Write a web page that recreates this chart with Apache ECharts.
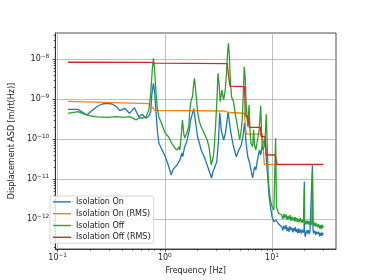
<!DOCTYPE html>
<html><head><meta charset="utf-8">
<script src="https://cdn.jsdelivr.net/npm/echarts@6/dist/echarts.min.js"></script>
<style>html,body{margin:0;padding:0;background:#fff}#c{width:374px;height:280px}</style>
</head><body><div id="c"></div>
<script>
// ---- data ----
const onFreq = [0.125,0.14,0.155,0.172,0.187,0.212,0.235,0.261,0.29,0.321,0.356,0.38,0.421,0.468,0.519,0.572,0.613,0.666,0.709,0.739,0.755,0.782,0.804,0.82,0.85,0.879,0.943,1.01,1.076,1.146,1.19,1.245,1.30,1.38,1.44,1.47,1.53,1.60,1.69,1.74,1.81,1.86,1.89,1.95,2.02,2.10,2.18,2.33,2.48,2.58,2.73,2.81,2.86,3.05,3.17,3.25,3.36,3.53,3.68,3.78,3.89,4.05,4.19,4.34,4.53,4.65,4.82,5.03,5.16,5.35,5.54,5.73,5.94,6.19,6.36,6.59,6.87,7.06,7.31,7.63,7.84,8.12,8.47,8.70,8.95,9.20,9.39,9.65,10.0,10.4,10.9,11.5,12.3,12.6,12.9,13.2,13.5,13.8,14.1,14.4,14.7,15.0,15.3,15.6,15.9,16.2,16.5,16.8,17.1,17.4,17.7,18.0,18.4,18.8,19.2,19.6,19.9,20.0,20.1,20.4,20.7,21.0,21.4,21.8,22.2,22.6,23.0,23.5,23.8,24.1,24.5,25.0,25.5,26.0,26.6,27.2,27.8,28.3,28.8,29.3,29.7,30.0];
const onASD = [5.53e-10,5.53e-10,5.5e-10,4.6e-10,3.98e-10,5.31e-10,6.6e-10,7.5e-10,7.81e-10,7.5e-10,6.3e-10,5.1e-10,5.85e-10,4.39e-10,6.1e-10,3.61e-10,4.15e-10,3.29e-10,3.76e-10,4.8e-10,1.26e-9,2.47e-9,1.49e-9,6.4e-10,1.68e-10,7.94e-11,5.31e-11,3.61e-11,2.24e-11,1.26e-11,1.68e-11,2.0e-11,2.24e-11,2.99e-11,4.47e-11,3.61e-11,6.42e-11,8.56e-11,1.68e-10,2.99e-10,4.39e-10,5.75e-10,4.2e-10,2.24e-10,1.14e-10,7.94e-11,5.31e-11,3.61e-11,2.24e-11,2.03e-11,1.06e-11,1.52e-11,1.68e-11,2.71e-11,9.44e-11,4.54e-10,1.68e-10,9.44e-11,1.41e-10,2.5e-10,4.81e-10,2.03e-10,1.14e-10,7.08e-11,4.47e-11,3.61e-11,4.81e-11,4.47e-11,7.08e-11,1.14e-10,2.5e-10,7.81e-11,3.61e-11,2.47e-11,1.68e-11,1.06e-11,2.03e-11,1.68e-11,2.99e-11,5.31e-11,3.98e-11,7.08e-11,9.44e-11,6.6e-11,2.03e-11,7.94e-12,3.61e-12,2.03e-12,1.14e-12,8.56e-13,9.44e-13,7.5e-13,6.42e-13,5.2e-13,6.8e-13,5.6e-13,7.0e-13,5.0e-13,6.2e-13,4.8e-13,6.5e-13,5.3e-13,6.0e-13,4.6e-13,5.9e-13,5.0e-13,6.3e-13,4.7e-13,5.6e-13,4.4e-13,5.8e-13,4.5e-13,5.5e-13,4.3e-13,5.4e-13,4.6e-13,5.2e-13,8.5e-12,5.0e-13,3.6e-13,3.7e-13,5.2e-13,4.4e-13,5.3e-13,4.2e-13,5.0e-13,4.6e-13,5.5e-13,2.2e-11,5.2e-13,4.4e-13,5.1e-13,4.0e-13,4.8e-13,4.2e-13,4.8e-13,3.7e-13,4.5e-13,3.8e-13,4.6e-13,3.9e-13,4.4e-13];

const offFreq = [0.125,0.155,0.179,0.203,0.235,0.29,0.356,0.412,0.468,0.508,0.541,0.575,0.626,0.666,0.709,0.739,0.763,0.782,0.798,0.82,0.85,0.879,0.943,1.01,1.08,1.16,1.245,1.30,1.35,1.38,1.41,1.46,1.50,1.53,1.60,1.67,1.71,1.76,1.81,1.86,1.89,1.95,2.02,2.10,2.18,2.33,2.48,2.58,2.71,2.81,2.86,2.97,3.07,3.13,3.20,3.29,3.41,3.53,3.66,3.76,3.86,3.92,4.00,4.08,4.19,4.28,4.37,4.53,4.65,4.82,4.99,5.16,5.27,5.38,5.50,5.61,5.73,5.94,6.10,6.23,6.36,6.59,6.73,6.87,7.06,7.31,7.58,7.84,8.0,8.12,8.47,8.70,8.83,9.01,9.20,9.39,9.65,10.0,10.4,10.6,10.8,11.0,11.5,12.3,12.6,12.9,13.2,13.5,13.8,14.1,14.4,14.7,15.0,15.3,15.6,15.9,16.2,16.5,16.8,17.1,17.4,17.7,18.0,18.4,18.8,19.2,19.6,19.9,20.0,20.1,20.4,20.7,21.0,21.4,21.8,22.2,22.6,23.0,23.5,23.8,24.1,24.5,25.0,25.5,26.0,26.6,27.2,27.8,28.3,28.8,29.3,29.7,30.0];
const offASD = [4.39e-10,4.81e-10,4.15e-10,3.76e-10,3.57e-10,3.49e-10,3.61e-10,3.49e-10,3.61e-10,3.29e-10,2.99e-10,3.4e-10,3.35e-10,3.57e-10,5.31e-10,1.41e-9,5.31e-9,1.04e-8,6.42e-9,2.03e-9,5.85e-10,3.61e-10,2.24e-10,1.39e-10,1.14e-10,7.81e-11,5.85e-11,5.31e-11,6.42e-11,5.31e-11,9.44e-11,2.99e-10,1.39e-10,1.06e-10,1.39e-10,2.03e-10,5.31e-10,9.44e-10,1.14e-9,2.47e-9,3.29e-9,1.41e-9,4.81e-10,2.71e-10,2.03e-10,1.39e-10,9.44e-11,6.42e-11,2.24e-11,3.35e-11,4.47e-11,2.03e-10,1.14e-9,4.39e-9,2.47e-9,8.56e-10,1.68e-9,9.44e-10,1.68e-9,4.39e-9,1.68e-8,2.47e-8,1.14e-8,2.99e-9,1.14e-9,1.26e-9,8.56e-10,4.39e-10,2.99e-10,1.68e-10,9.44e-11,1.68e-10,2.99e-10,1.14e-9,6.42e-9,3.61e-9,7.81e-10,2.03e-10,7.08e-10,1.68e-10,7.81e-11,6.42e-11,1.68e-10,7.08e-11,5.31e-11,9.44e-11,1.68e-10,6.76e-10,1.26e-10,5.31e-11,6.42e-11,1.68e-10,4.15e-10,7.94e-11,1.14e-11,5.31e-12,2.99e-12,2.03e-12,1.68e-12,1.6e-12,1.04e-10,2.0e-12,1.39e-12,1.26e-12,1.0e-12,1.35e-12,1.05e-12,1.3e-12,9.5e-13,1.2e-12,9.8e-13,1.25e-12,9.0e-13,1.15e-12,9.2e-13,1.1e-12,8.6e-13,1.12e-12,8.8e-13,1.05e-12,8.2e-13,1.0e-12,8.5e-13,1.05e-12,8.0e-13,9.6e-13,8.1e-13,9.0e-13,6.0e-12,8.4e-13,7.2e-13,9.0e-13,7.5e-13,9.2e-13,7.3e-13,8.8e-13,7.0e-13,8.5e-13,7.2e-13,1.5e-11,8.0e-13,6.8e-13,8.2e-13,6.5e-13,7.8e-13,6.2e-13,7.4e-13,5.8e-13,7.0e-13,5.6e-13,7.2e-13,5.9e-13,6.8e-13];

const onRmsFreq = [0.125,0.709,0.739,0.77,0.804,3.6,3.92,4.0,5.52,5.73,8.12,8.47,30];
const onRms = [8.76e-10,7.63e-10,7.1e-10,5.96e-10,5.22e-10,5.01e-10,4.6e-10,4.47e-10,4.4e-10,1.33e-10,1.33e-10,2.3e-11,2.3e-11];

const offRmsFreq = [0.125,0.74,0.8,3.82,3.92,4.05,5.55,5.62,5.94,6.15,7.79,7.9,8.64,8.8,10.7,11.1,30];
const offRms = [8.3e-9,8.2e-9,7.85e-9,7.7e-9,4.0e-9,2.1e-9,2.03e-9,4.0e-10,3.3e-10,1.96e-10,1.96e-10,1.14e-10,1.14e-10,3.98e-11,3.98e-11,2.33e-11,2.33e-11];

const seriesNames = ['Isolation On','Isolation On (RMS)','Isolation Off','Isolation Off (RMS)'];
const seriesColors = ['#1f77b4','#ff7f0e','#2ca02c','#d62728'];
const xMajor = [0.1, 1, 10];
const yMajor = [1e-12, 1e-11, 1e-10, 1e-9, 1e-8];

// ---- build ----
const FONT = 'DejaVu Sans';
const xMin = 0.0951, xMax = 39.5, yMin = 1.778e-13, yMax = 4.467e-8;
function minors(lo, hi, eLo, eHi){
  const out=[];
  for(let e=eLo;e<=eHi;e++) for(let k=2;k<=9;k++){
    const v=Number((k*Math.pow(10,e)).toPrecision(3));
    if(v>lo && v<hi) out.push(v);
  }
  return out;
}
const xMinor = minors(xMin,xMax,-2,2);
const yMinor = minors(yMin,yMax,-14,-7);
function zip(a,b){return a.map((v,i)=>[v,b[i]]);}
function powLabel(v){
  const e=Math.round(Math.log10(v));
  return '{b|10}{s|'+(e<0?'\u2212'+(-e):String(e))+'}';
}
const rich = {b:{fontSize:8,lineHeight:12,fontFamily:FONT,color:'#222'}, s:{fontSize:5.8,lineHeight:5,verticalAlign:'top',fontFamily:FONT,color:'#222'}};
const tickStyle = {color:'#222', width:0.8};

const chart = echarts.init(document.getElementById('c'), null, {renderer:'canvas'});
chart.setOption({
  animation:false,
  backgroundColor:'#fff',
  textStyle:{fontFamily:FONT},
  grid:{left:46,right:38,top:33,bottom:31,show:true,borderColor:'#222',borderWidth:0.8},
  legend:{
    orient:'vertical', left:50, top:196, padding:[0,3,0,3],
    itemWidth:18, itemHeight:1.4, itemGap:0, icon:'rect',
    itemStyle:{borderWidth:0},
    textStyle:{fontSize:8,lineHeight:11.8,color:'#222',fontFamily:FONT},
    backgroundColor:'rgba(255,255,255,0.85)', borderColor:'#cccccc', borderWidth:0.8, borderRadius:2,
    data:seriesNames.map((n,i)=>({name:n, itemStyle:{color:seriesColors[i],borderWidth:0}}))
  },
  xAxis:[
    {type:'log', min:xMin, max:xMax, position:'bottom',
     axisLine:{show:true,onZero:false,lineStyle:tickStyle},
     axisTick:{show:true,inside:false,length:2.8,lineStyle:tickStyle,customValues:xMajor},
     axisLabel:{customValues:xMajor,formatter:powLabel,rich:rich,margin:3},
     splitLine:{show:true,lineStyle:{color:'#b0b0b0',width:0.8}},
     name:'Frequency [Hz]', nameLocation:'middle', nameGap:17,
     nameTextStyle:{fontSize:8,color:'#222',fontFamily:FONT}},
    {type:'log', min:xMin, max:xMax, position:'bottom',
     axisLine:{show:false}, axisLabel:{show:false}, splitLine:{show:false},
     axisTick:{show:true,inside:false,length:1.6,lineStyle:tickStyle,customValues:xMinor}}
  ],
  yAxis:[
    {type:'log', min:yMin, max:yMax, position:'left',
     axisLine:{show:true,onZero:false,lineStyle:tickStyle},
     axisTick:{show:true,inside:false,length:2.8,lineStyle:tickStyle,customValues:yMajor},
     axisLabel:{customValues:yMajor,formatter:powLabel,rich:rich,margin:6},
     splitLine:{show:true,lineStyle:{color:'#b0b0b0',width:0.8}},
     name:'Displacement ASD [m/rt(Hz)]', nameLocation:'middle', nameGap:32,
     nameTextStyle:{fontSize:8,color:'#222',fontFamily:FONT}},
    {type:'log', min:yMin, max:yMax, position:'left',
     axisLine:{show:false}, axisLabel:{show:false}, splitLine:{show:false},
     axisTick:{show:true,inside:false,length:1.6,lineStyle:tickStyle,customValues:yMinor}}
  ],
  series:[
    {name:seriesNames[0],type:'line',data:zip(onFreq,onASD)},
    {name:seriesNames[1],type:'line',data:zip(onRmsFreq,onRms)},
    {name:seriesNames[2],type:'line',data:zip(offFreq,offASD)},
    {name:seriesNames[3],type:'line',data:zip(offRmsFreq,offRms)}
  ].map((s,i)=>Object.assign(s,{xAxisIndex:0,yAxisIndex:0,symbol:'none',showSymbol:false,
      lineStyle:{width:1.3,color:seriesColors[i]},itemStyle:{color:seriesColors[i]},
      emphasis:{disabled:true},silent:true}))
});
</script></body></html>
